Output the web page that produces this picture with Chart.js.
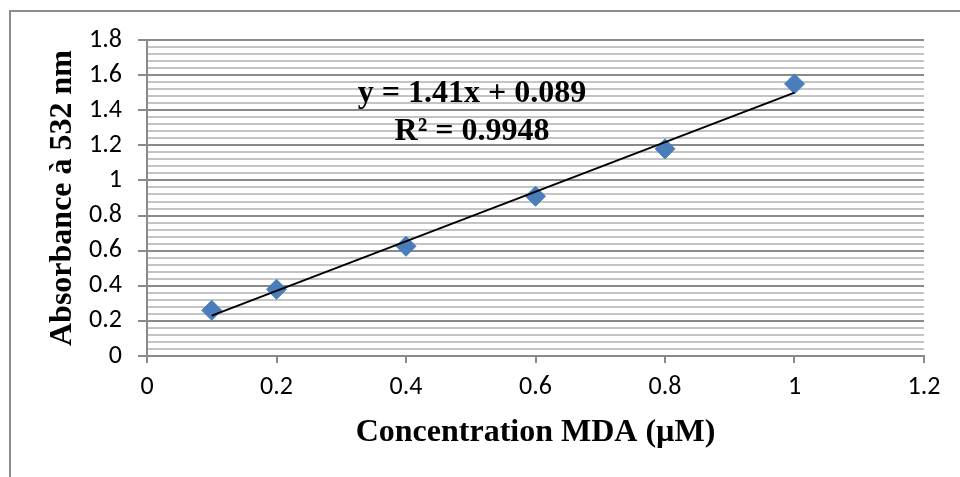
<!DOCTYPE html>
<html>
<head>
<meta charset="utf-8">
<script src="https://cdn.jsdelivr.net/npm/chart.js@4/dist/chart.umd.min.js"></script>
<style>
  html, body { margin: 0; padding: 0; background: #fff; }
  #wrap { width: 960px; height: 477px; position: relative; }
</style>
</head>
<body>
<div id="wrap"><canvas id="c" width="960" height="477"></canvas></div>
<script>
// Data
const concentrations = [0.1, 0.2, 0.4, 0.6, 0.8, 1.0];
const absorbances = [0.26, 0.38, 0.625, 0.91, 1.18, 1.55];
// Trendline endpoints (y = 1.41x + 0.089)
const trendX = [0.1, 1.0];
const trendY = [0.23, 1.50];
const equationLines = ['y = 1.41x + 0.089', 'R² = 0.9948'];
const xTitle = 'Concentration MDA (µM)';
const yTitle = 'Absorbance à 532 nm';

const tickFont = "Carlito, Lato, 'Open Sans', sans-serif";
const serifFont = "'Liberation Serif', 'DejaVu Serif', serif";

const frame = {
  id: 'frame',
  beforeDraw(chart) {
    const ctx = chart.ctx;
    ctx.save();
    ctx.strokeStyle = '#8c8c8c';
    ctx.lineWidth = 2;
    ctx.beginPath();
    ctx.moveTo(10, 477);
    ctx.lineTo(10, 11);
    ctx.lineTo(960, 11);
    ctx.stroke();
    ctx.restore();
  }
};

const equation = {
  id: 'equation',
  afterDatasetsDraw(chart) {
    const ctx = chart.ctx;
    const xs = chart.scales.x, ys = chart.scales.y;
    ctx.save();
    ctx.fillStyle = '#000';
    ctx.font = "bold 32px " + serifFont;
    ctx.textAlign = 'center';
    ctx.textBaseline = 'middle';
    const cx = xs.getPixelForValue(0.502);
    ctx.fillText(equationLines[0], cx, ys.getPixelForValue(1.495));
    ctx.fillText(equationLines[1], cx, ys.getPixelForValue(1.28));
    ctx.restore();
  }
};

new Chart(document.getElementById('c'), {
  type: 'scatter',
  data: {
    datasets: [
      {
        type: 'line',
        label: 'trend',
        data: trendX.map((x, i) => ({ x: x, y: trendY[i] })),
        borderColor: '#000',
        borderWidth: 2,
        pointRadius: 0,
        fill: false,
        tension: 0
      },
      {
        label: 'data',
        data: concentrations.map((x, i) => ({ x: x, y: absorbances[i] })),
        pointStyle: 'rectRot',
        pointRadius: 10,
        pointHoverRadius: 10,
        backgroundColor: '#4a7ebb',
        borderColor: '#4a7ebb',
        borderWidth: 1
      }
    ]
  },
  options: {
    responsive: false,
    animation: false,
    devicePixelRatio: 1,
    layout: { padding: { left: 0, right: 36, top: 40, bottom: 0 } },
    plugins: { legend: { display: false }, tooltip: { enabled: false } },
    scales: {
      x: {
        type: 'linear',
        min: 0, max: 1.2,
        ticks: {
          stepSize: 0.2,
          color: '#000',
          font: { family: tickFont, size: 26 },
          padding: 9,
          maxRotation: 0,
          callback: v => Number(v.toFixed(1)).toString()
        },
        grid: { drawOnChartArea: false, drawTicks: true, tickLength: 7, color: '#8a8a8a', lineWidth: 2 },
        border: { display: true, color: '#8a8a8a', width: 2 },
        title: {
          display: true, text: xTitle, color: '#000',
          font: { family: serifFont, size: 32, weight: 'bold' },
          padding: { top: 0, bottom: 25 }
        },
        afterFit(s) { s.height = 121; }
      },
      y: {
        type: 'linear',
        min: 0, max: 1.8,
        ticks: {
          stepSize: 0.04,
          autoSkip: false,
          color: '#000',
          font: { family: tickFont, size: 26 },
          padding: 16,
          callback: v => {
            const r = Math.round(v * 100);
            if (r % 20 !== 0) return '';
            return Number((r / 100).toFixed(1)).toString();
          }
        },
        grid: {
          drawTicks: true,
          tickLength: 9,
          lineWidth: 2,
          color: c => (Math.round(c.tick.value * 100) % 20 === 0) ? '#8a8a8a' : '#c4c4c4',
          tickColor: c => (Math.round(c.tick.value * 100) % 20 === 0) ? '#8a8a8a' : 'rgba(0,0,0,0)'
        },
        border: { display: true, color: '#8a8a8a', width: 2 },
        title: {
          display: true, text: yTitle, color: '#000',
          font: { family: serifFont, size: 32, weight: 'bold' },
          padding: { top: 44, bottom: 0 }
        },
        afterFit(s) { s.width = 147; }
      }
    }
  },
  plugins: [frame, equation]
});
</script>
</body>
</html>
